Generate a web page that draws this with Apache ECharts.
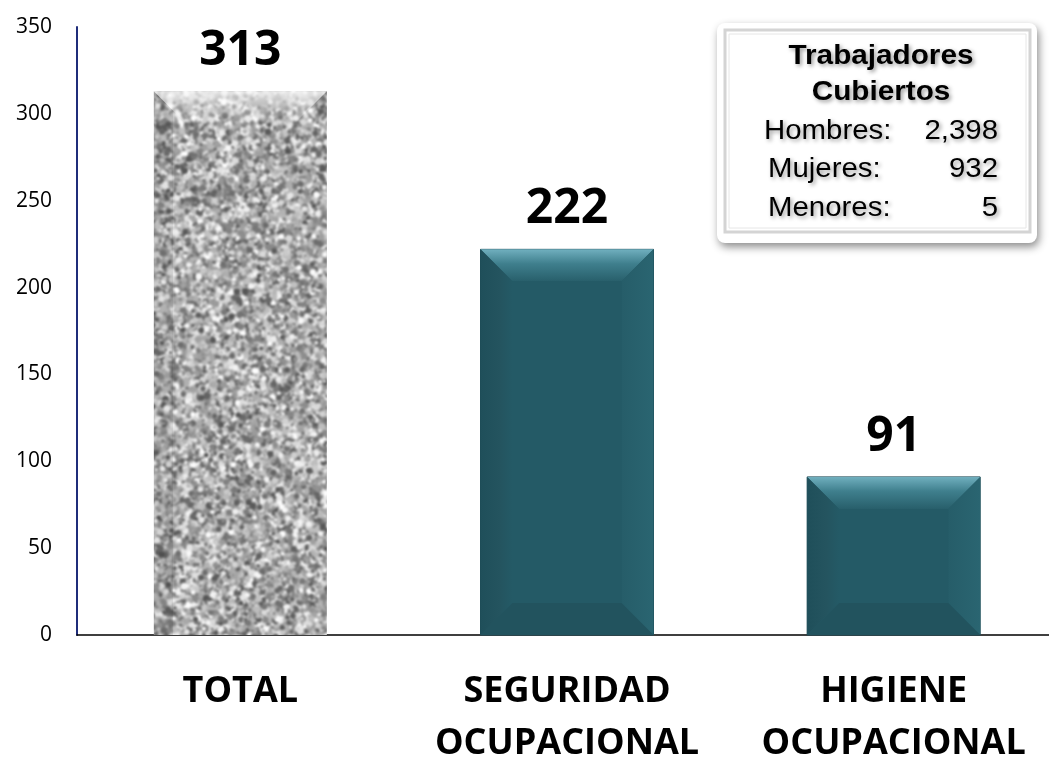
<!DOCTYPE html>
<html>
<head>
<meta charset="utf-8">
<script src="https://cdn.jsdelivr.net/npm/echarts@6/dist/echarts.min.js"></script>
<style>
  html, body { margin: 0; padding: 0; background: #fff; }
  #chart { width: 1049px; height: 757px; }
</style>
</head>
<body>
<div id="chart"></div>
<script>
const categories = ['TOTAL', 'SEGURIDAD\nOCUPACIONAL', 'HIGIENE\nOCUPACIONAL']
const values = [313, 222, 91]
const yTicks = { min: 0, max: 350, interval: 50 }

const legendTitle = ['Trabajadores', 'Cubiertos']
const legendLabels = ['Hombres:', 'Mujeres:', 'Menores:']
const legendValues = ['2,398', '932', '5']

// grey granite-like texture for the TOTAL bar (big enough to avoid tile seams)
function makeNoise() {
  let seed = 12345
  const rnd = () => {
    seed |= 0; seed = seed + 0x6D2B79F5 | 0
    let t = Math.imul(seed ^ seed >>> 15, 1 | seed)
    t = t + Math.imul(t ^ t >>> 7, 61 | t) ^ t
    return ((t ^ t >>> 14) >>> 0) / 4294967296
  }
  const w = 420, h = 720
  const raw = document.createElement('canvas')
  raw.width = w; raw.height = h
  const c = raw.getContext('2d')
  c.fillStyle = '#b6b6b6'
  c.fillRect(0, 0, w, h)
  for (let i = 0; i < 60000; i++) {
    const g = Math.floor(85 + rnd() * 170)
    c.fillStyle = 'rgb(' + g + ',' + g + ',' + g + ')'
    c.beginPath()
    c.arc(rnd() * w, rnd() * h, 1 + rnd() * 2.4, 0, Math.PI * 2)
    c.fill()
  }
  const out = document.createElement('canvas')
  out.width = w; out.height = h
  const o = out.getContext('2d')
  o.filter = 'blur(0.9px)'
  o.drawImage(raw, 0, 0)
  return out
}
const noise = makeNoise()

const chart = echarts.init(document.getElementById('chart'))

function poly(points, fill) {
  return { type: 'polygon', shape: { points }, style: { fill } }
}

function renderBar(params, api) {
  const idx = api.value(0)
  const top = api.coord([idx, api.value(1)])
  const base = api.coord([idx, 0])
  const w = 173
  const x0 = top[0] - w / 2, x1 = top[0] + w / 2
  const y0 = top[1], y1 = base[1]
  const b = Math.min(32, (y1 - y0) / 2)
  const children = []
  if (idx === 0) {
    children.push({ type: 'rect', shape: { x: x0, y: y0, width: w, height: y1 - y0 },
      style: { fill: { image: noise, repeat: 'repeat' } } })
    children.push(poly([[x0, y0], [x1, y0], [x1 - b, y0 + b], [x0 + b, y0 + b]],
      new echarts.graphic.LinearGradient(0, 0, 0, 1, [
        { offset: 0, color: 'rgba(255,255,255,0.75)' },
        { offset: 1, color: 'rgba(255,255,255,0)' }])))
    children.push(poly([[x0, y0], [x0 + b * 0.6, y0 + b * 0.6], [x0 + b * 0.6, y1], [x0, y1]], 'rgba(0,0,0,0.08)'))
  } else {
    children.push({ type: 'rect', shape: { x: x0, y: y0, width: w, height: y1 - y0 },
      style: { fill: '#245a66', stroke: '#1d4b56', lineWidth: 1 } })
    children.push(poly([[x0, y0], [x1, y0], [x1 - b, y0 + b], [x0 + b, y0 + b]],
      new echarts.graphic.LinearGradient(0, 0, 0, 1, [
        { offset: 0, color: '#70afbe' },
        { offset: 0.45, color: '#3f7f8d' },
        { offset: 1, color: '#285f6b' }])))
    children.push(poly([[x0, y0], [x0 + b, y0 + b], [x0 + b, y1 - b], [x0, y1]],
      new echarts.graphic.LinearGradient(0, 0, 1, 0, [
        { offset: 0, color: '#1f4f5a' },
        { offset: 0.6, color: '#24545f' },
        { offset: 1, color: '#245a66' }])))
    children.push(poly([[x1, y0], [x1 - b, y0 + b], [x1 - b, y1 - b], [x1, y1]],
      new echarts.graphic.LinearGradient(0, 0, 1, 0, [
        { offset: 0, color: '#265d69' },
        { offset: 1, color: '#2a6571' }])))
    children.push(poly([[x0, y1], [x0 + b, y1 - b], [x1 - b, y1 - b], [x1, y1]], '#22535e'))
    children.push({ type: 'rect', shape: { x: x0 + b, y: y0 + b, width: w - 2 * b, height: Math.max(0, y1 - y0 - 2 * b) },
      style: { fill: '#245a66' } })
  }
  children.push({ type: 'text', style: {
    text: String(api.value(1)), x: top[0], y: y0 - 40,
    align: 'center', verticalAlign: 'middle',
    fontSize: 48, fontWeight: 'bold', fontFamily: 'Open Sans', fill: '#000' } })
  return { type: 'group', children }
}

const shadowText = {
  textShadowColor: 'rgba(0,0,0,0.4)', textShadowBlur: 4,
  textShadowOffsetX: 2, textShadowOffsetY: 2
}
const legendChildren = [
  { type: 'rect', shape: { x: 717, y: 23, width: 320, height: 220, r: 8 },
    style: { fill: '#fff', shadowColor: 'rgba(0,0,0,0.45)', shadowBlur: 8, shadowOffsetX: 2, shadowOffsetY: 4 } },
  { type: 'rect', shape: { x: 725, y: 30, width: 305, height: 202 },
    style: { fill: 'none', stroke: '#d4d4d4', lineWidth: 3 } },
  { type: 'rect', shape: { x: 729, y: 34, width: 297, height: 194 },
    style: { fill: 'none', stroke: '#e6e6e6', lineWidth: 1 } }
]
legendTitle.forEach((t, i) => {
  legendChildren.push({ type: 'text', x: 881, y: 57 + i * 36, scaleX: 1.1, style: Object.assign({
    text: t, align: 'center', verticalAlign: 'middle',
    fontSize: 27, fontWeight: 'bold', fontFamily: 'Liberation Sans', fill: '#000' }, shadowText) })
})
legendLabels.forEach((t, i) => {
  const y = 131 + i * 38.5
  legendChildren.push({ type: 'text', x: 764 + (i ? 4 : 0), y, scaleX: 1.05, style: Object.assign({
    text: t, align: 'left', verticalAlign: 'middle',
    fontSize: 28, fontFamily: 'Liberation Sans', fill: '#000' }, shadowText) })
  legendChildren.push({ type: 'text', x: 998, y, scaleX: 1.05, style: Object.assign({
    text: legendValues[i], align: 'right', verticalAlign: 'middle',
    fontSize: 28, fontFamily: 'Liberation Sans', fill: '#000' }, shadowText) })
})

chart.setOption({
  animation: false,
  grid: { left: 77, right: -8, top: 27, bottom: 122, containLabel: false, outerBoundsMode: 'none' },
  xAxis: {
    type: 'category',
    data: categories,
    axisLine: { lineStyle: { color: '#000', width: 1.5 } },
    axisTick: { show: false },
    axisLabel: {
      interval: 0, margin: 31, color: '#000',
      fontSize: 36, fontWeight: 'bold', fontFamily: 'Open Sans', lineHeight: 52
    }
  },
  yAxis: {
    type: 'value',
    min: yTicks.min, max: yTicks.max, interval: yTicks.interval,
    axisLine: { show: true, lineStyle: { color: '#1f2d7a', width: 2 } },
    axisTick: { show: false },
    splitLine: { show: false },
    axisLabel: { margin: 25, color: '#000', fontSize: 21, fontFamily: 'Open Sans' }
  },
  series: [{
    type: 'custom',
    renderItem: renderBar,
    encode: { x: 0, y: 1 },
    data: values.map((v, i) => [i, v])
  }],
  graphic: { elements: [{ type: 'group', children: legendChildren }] }
})
</script>
</body>
</html>
